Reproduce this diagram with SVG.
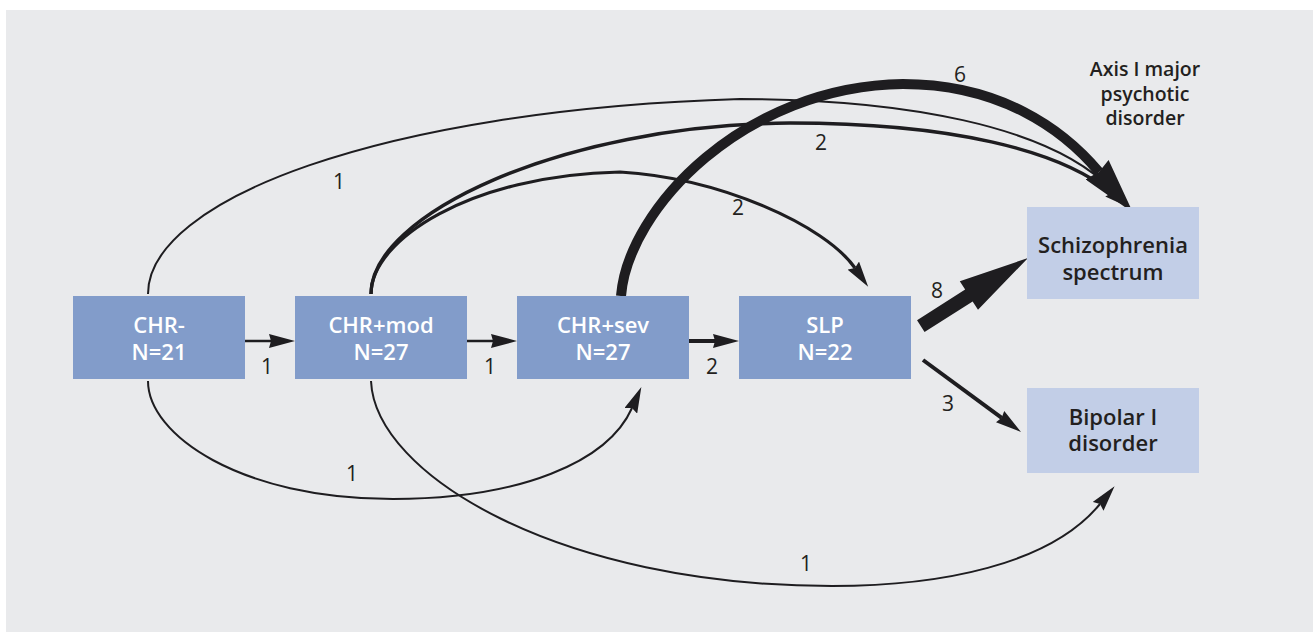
<svg xmlns="http://www.w3.org/2000/svg" width="1313" height="633" viewBox="0 0 1313 633">
  <style>
    .main rect { fill: #829CCA; }
    .main text { fill: #FFFFFF; font-family: "Open Sans", "Liberation Sans", sans-serif; font-weight: 600; font-size: 22px; text-anchor: middle; }
    .out rect { fill: #C2CEE7; }
    .out text { fill: #231F20; font-family: "Open Sans", "Liberation Sans", sans-serif; font-weight: 600; font-size: 22px; text-anchor: middle; }
    .edge { fill: none; stroke: #1E1D20; }
    .lbl { fill: #231F20; font-family: "Open Sans", "Liberation Sans", sans-serif; font-size: 21px; text-anchor: middle; }
    .title { fill: #231F20; font-family: "Open Sans", "Liberation Sans", sans-serif; font-weight: 600; font-size: 19.5px; text-anchor: middle; }
  </style>
  <defs>
    <marker id="ah" markerUnits="userSpaceOnUse" markerWidth="26" markerHeight="14" viewBox="0 0 26 14" refX="2" refY="7" orient="auto">
      <path d="M0,0 L26,7 L0,14 L2,7 z" fill="#1E1D20"/>
    </marker>
    <marker id="ahc" markerUnits="userSpaceOnUse" markerWidth="26" markerHeight="14" viewBox="0 0 26 14" refX="3" refY="7" orient="auto">
      <path d="M0,0 L26,7 L0,14 L3,7 z" fill="#1E1D20"/>
    </marker>
    <marker id="ahBig" markerUnits="userSpaceOnUse" markerWidth="56" markerHeight="30" viewBox="0 0 56 30" refX="3" refY="15" orient="auto">
      <path d="M0,0 L56,15 L0,30 L3,15 z" fill="#1E1D20"/>
    </marker>
  </defs>

  <rect x="0" y="0" width="1313" height="633" fill="#FFFFFF"/>
  <rect x="6" y="10" width="1307" height="622" fill="#E9EAEC"/>

  <g id="connectors">
    <!-- straight arrows between stages -->
    <path class="edge" d="M245,341 L271,341" stroke-width="2.5" marker-end="url(#ah)"/>
    <path class="edge" d="M467,341 L493,341" stroke-width="2.5" marker-end="url(#ah)"/>
    <path class="edge" d="M689,341 L715,341" stroke-width="4" marker-end="url(#ah)"/>
    <!-- SLP to outcomes -->
    <polygon points="917.05,320.2 965.15,289.6 959.8,281.2 1028,258 978,309.8 972.65,301.4 924.55,332" fill="#1E1D20"/>
    <path class="edge" d="M923,360 L1001.7,417.8" stroke-width="4" marker-end="url(#ah)"/>
    <!-- upper arcs -->
    <path class="edge" d="M148,294 C148,200 380,110 740,99 C900,99 1050,125 1112,190" stroke-width="2" marker-end="url(#ahc)"/>
    <path class="edge" d="M371,294 C371,215 560,125 790,123 C950,123 1060,150 1112,193" stroke-width="3.5" marker-end="url(#ahc)"/>
    <path class="edge" d="M371,294 C371,240 470,175 620,172 C720,178 825,225 855,268" stroke-width="3.2" marker-end="url(#ahc)"/>
    <path class="edge" d="M621,296 C628,208 745,86 903,84 C1000,84 1063,129 1099,172" stroke-width="10" marker-end="url(#ahBig)"/>
    <!-- lower arcs -->
    <path class="edge" d="M148,381 C148,435 240,499 393,499 C520,499 608,462 632,408" stroke-width="2" marker-end="url(#ahc)"/>
    <path class="edge" d="M371,381 C375,475 560,586 832,586 C940,586 1050,565 1100,504" stroke-width="2" marker-end="url(#ahc)"/>
  </g>

  <g id="edge-labels">
    <text class="lbl" x="267" y="374">1</text>
    <text class="lbl" x="490" y="374">1</text>
    <text class="lbl" x="712" y="374">2</text>
    <text class="lbl" x="937" y="298">8</text>
    <text class="lbl" x="948" y="411">3</text>
    <text class="lbl" x="339" y="189">1</text>
    <text class="lbl" x="821" y="150">2</text>
    <text class="lbl" x="738" y="215">2</text>
    <text class="lbl" x="960" y="82">6</text>
    <text class="lbl" x="352" y="481">1</text>
    <text class="lbl" x="806" y="571">1</text>
  </g>

  <g id="node-chr-minus" class="main">
    <rect x="73" y="296" width="172" height="83"/>
    <text x="159" y="333">CHR-</text>
    <text x="159" y="360">N=21</text>
  </g>
  <g id="node-chr-mod" class="main">
    <rect x="295" y="296" width="172" height="83"/>
    <text x="381" y="333">CHR+mod</text>
    <text x="381" y="360">N=27</text>
  </g>
  <g id="node-chr-sev" class="main">
    <rect x="517" y="296" width="172" height="83"/>
    <text x="603" y="333">CHR+sev</text>
    <text x="603" y="360">N=27</text>
  </g>
  <g id="node-slp" class="main">
    <rect x="739" y="296" width="172" height="83"/>
    <text x="825" y="333">SLP</text>
    <text x="825" y="360">N=22</text>
  </g>
  <g id="node-schizophrenia" class="out">
    <rect x="1027" y="207" width="172" height="92"/>
    <text x="1113" y="253">Schizophrenia</text>
    <text x="1113" y="280">spectrum</text>
  </g>
  <g id="node-bipolar" class="out">
    <rect x="1027" y="388" width="172" height="85"/>
    <text x="1113" y="425">Bipolar I</text>
    <text x="1113" y="451">disorder</text>
  </g>
  <g id="label-axis">
    <text class="title" x="1145" y="76">Axis I major</text>
    <text class="title" x="1145" y="101">psychotic</text>
    <text class="title" x="1145" y="125">disorder</text>
  </g>
</svg>
